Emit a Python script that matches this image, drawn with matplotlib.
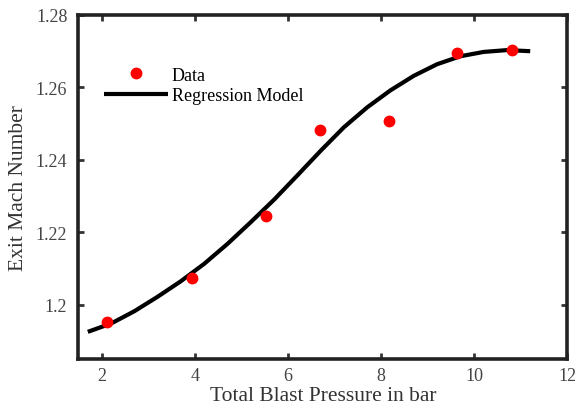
import numpy as np
import matplotlib
matplotlib.use('Agg')
import matplotlib.pyplot as plt

# measured points
pressure = [2.12, 3.93, 5.52, 6.68, 8.16, 9.62, 10.80]
mach = [1.1952, 1.2074, 1.2244, 1.2483, 1.2506, 1.2694, 1.2702]

# regression curve
model_x = [1.7, 2.2, 2.7, 3.2, 3.7, 4.2, 4.7, 5.2, 5.7, 6.2,
           6.7, 7.2, 7.7, 8.2, 8.7, 9.2, 9.7, 10.2, 10.7, 11.2]
model_y = [1.1925, 1.1948, 1.1982, 1.2022, 1.2065, 1.2113, 1.2168, 1.2228, 1.2290, 1.2357,
           1.2425, 1.2490, 1.2545, 1.2592, 1.2632, 1.2664, 1.2686, 1.2698, 1.2703, 1.2700]

xticks = [2, 4, 6, 8, 10, 12]
yticks = [1.20, 1.22, 1.24, 1.26, 1.28]
ytick_labels = ['1.2', '1.22', '1.24', '1.26', '1.28']

plt.rcParams['font.family'] = ['Liberation Serif', 'DejaVu Serif']

fig = plt.figure(figsize=(5.75, 4.14), dpi=100)
ax = fig.add_axes([0.1365, 0.1304, 0.8504, 0.831])

ax.plot(pressure, mach, 'o', color='#ff0000', markersize=7.5, label='Data', zorder=3)
ax.plot(model_x, model_y, '-', color='black', linewidth=3, label='Regression Model',
        solid_capstyle='butt', solid_joinstyle='round', zorder=2)

ax.set_xlim(1.5, 12)
ax.set_ylim(1.185, 1.28)
ax.set_xticks(xticks)
ax.set_yticks(yticks)
ax.set_yticklabels(ytick_labels)
ax.tick_params(axis='both', direction='in', top=True, right=True, length=4, width=2,
               labelsize=13, colors='#333333', labelcolor='#444444')
ax.tick_params(axis='y', pad=8)
ax.tick_params(axis='x', pad=6)
for sp in ax.spines.values():
    sp.set_linewidth(2.6)
    sp.set_color('#222222')

ax.set_xlabel('Total Blast Pressure in bar', fontsize=15.5, color='#333333', labelpad=1)
ax.set_ylabel('Exit Mach Number', fontsize=15.5, color='#333333', labelpad=6)

ax.legend(loc='upper left', bbox_to_anchor=(0.052, 0.85), frameon=False,
          fontsize=13, handlelength=3.55, handletextpad=0.2, borderpad=0,
          borderaxespad=0, labelspacing=0.2)

fig.savefig('out.png', dpi=100)
